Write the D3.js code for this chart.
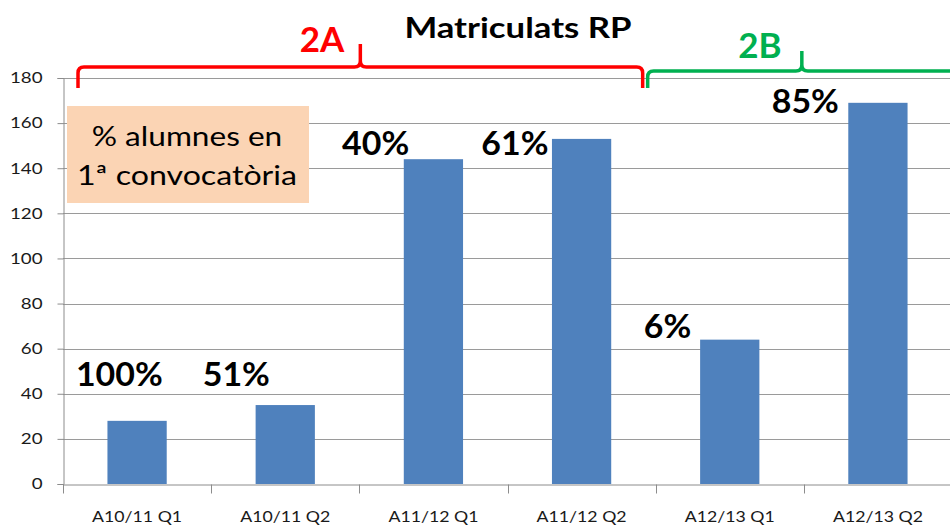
<!DOCTYPE html>
<html>
<head>
<meta charset="utf-8">
<script src="https://cdn.jsdelivr.net/npm/d3@7"></script>
<style>
  body { margin: 0; background: #fff; }
  text { font-family: Lato, "Open Sans", sans-serif; }
</style>
</head>
<body>
<div id="chart"></div>
<script>
// data
var categories = ['A10/11 Q1', 'A10/11 Q2', 'A11/12 Q1', 'A11/12 Q2', 'A12/13 Q1', 'A12/13 Q2'];
var matriculats = [28, 35, 144, 153, 64, 169];
var pctLabels = ['100%', '51%', '40%', '61%', '6%', '85%'];
// where each % label sits: baseline in axis units, centre as a fraction of its band
var pctLabelY = [43.4, 43.4, 145.8, 145.8, 64.7, 164.4];
var pctLabelPos = [0.38, 0.17, 0.11, 0.05, 0.08, 0.01];
var yTicks = [0, 20, 40, 60, 80, 100, 120, 140, 160, 180];
var groups = [
  { name: '2A', from: 0, to: 4, color: '#ff0000' },
  { name: '2B', from: 4, to: 6, color: '#00b050' }
];

var width = 950, height = 526;
var margin = { top: 78, right: -2, bottom: 42, left: 63 };

// the original text is a bit wider than Lato, stretch it
function stretch(sel, k) {
  sel.each(function () {
    var len = this.getComputedTextLength();
    d3.select(this)
      .attr('textLength', len * k)
      .attr('lengthAdjust', 'spacingAndGlyphs');
  });
}

var svg = d3.select('#chart')
  .append('svg')
  .attr('width', width)
  .attr('height', height);

var x = d3.scaleBand()
  .domain(categories)
  .range([margin.left, width - margin.right])
  .padding(0);

var y = d3.scaleLinear()
  .domain([0, 180])
  .range([height - margin.bottom, margin.top]);

// gridlines
svg.append('g')
  .selectAll('line')
  .data(yTicks.slice(1))
  .enter()
  .append('line')
  .attr('x1', margin.left)
  .attr('x2', width)
  .attr('y1', function (d) { return Math.round(y(d)) + 0.5; })
  .attr('y2', function (d) { return Math.round(y(d)) + 0.5; })
  .attr('stroke', '#9a9a9a')
  .attr('stroke-width', 1);

// y axis
var yAxis = svg.append('g')
  .attr('transform', 'translate(' + (margin.left + 0.5) + ',0)')
  .call(d3.axisLeft(y).tickValues(yTicks).tickSize(6).tickPadding(15));
yAxis.select('.domain').attr('stroke', '#8c8c8c');
yAxis.selectAll('.tick line').attr('stroke', '#8c8c8c');
yAxis.selectAll('.tick text')
  .attr('fill', '#1a1a1a')
  .style('font-size', '15px')
  .call(stretch, 1.25);

// x axis
var xAxis = svg.append('g')
  .attr('transform', 'translate(0,' + (Math.round(y(0)) + 0.5) + ')')
  .call(d3.axisBottom(x).tickSize(0).tickPadding(27));
xAxis.select('.domain').attr('stroke', '#8c8c8c');
xAxis.selectAll('.tick text')
  .attr('fill', '#1a1a1a')
  .style('font-size', '15px')
  .call(stretch, 1.18);
xAxis.selectAll('.sep')
  .data(categories)
  .enter()
  .append('line')
  .attr('class', 'sep')
  .attr('x1', function (d) { return Math.round(x(d)) + 0.5; })
  .attr('x2', function (d) { return Math.round(x(d)) + 0.5; })
  .attr('y1', 0)
  .attr('y2', 9)
  .attr('stroke', '#8c8c8c');

// bars
var barW = x.bandwidth() * 0.4;
svg.append('g')
  .selectAll('rect')
  .data(matriculats)
  .enter()
  .append('rect')
  .attr('x', function (d, i) { return x(categories[i]) + (x.bandwidth() - barW) / 2; })
  .attr('y', function (d) { return y(d); })
  .attr('width', barW)
  .attr('height', function (d) { return y(0) - y(d); })
  .attr('fill', '#4f81bd');

// % labels
svg.append('g')
  .selectAll('text')
  .data(pctLabels)
  .enter()
  .append('text')
  .attr('x', function (d, i) { return x(categories[i]) + x.bandwidth() * pctLabelPos[i]; })
  .attr('y', function (d, i) { return y(pctLabelY[i]); })
  .attr('text-anchor', 'middle')
  .style('font-size', '32px')
  .style('font-weight', 'bold')
  .attr('fill', '#000')
  .text(function (d) { return d; })
  .call(stretch, 1.06);

// note box
var box = svg.append('g');
box.append('rect')
  .attr('x', 67)
  .attr('y', 106)
  .attr('width', 242)
  .attr('height', 97)
  .attr('fill', '#fbd4b4');
box.append('text')
  .attr('x', 187)
  .attr('y', 146)
  .attr('text-anchor', 'middle')
  .style('font-size', '27px')
  .attr('fill', '#000')
  .text('% alumnes en')
  .call(stretch, 1.17);
box.append('text')
  .attr('x', 187)
  .attr('y', 185)
  .attr('text-anchor', 'middle')
  .style('font-size', '27px')
  .attr('fill', '#000')
  .text('1ª convocatòria')
  .call(stretch, 1.19);

// title
svg.append('text')
  .attr('x', 518)
  .attr('y', 38)
  .attr('text-anchor', 'middle')
  .style('font-size', '28px')
  .style('font-weight', 'bold')
  .attr('fill', '#000')
  .text('Matriculats RP')
  .call(stretch, 1.24);

// curly braces for the groups
function brace(x0, x1, yh, yb, yt) {
  var r = 6, xm = (x0 + x1) / 2;
  return 'M' + x0 + ',' + yb + 'L' + x0 + ',' + (yh + r) +
    'Q' + x0 + ',' + yh + ' ' + (x0 + r) + ',' + yh +
    'L' + (xm - r) + ',' + yh +
    'Q' + xm + ',' + yh + ' ' + xm + ',' + (yh - r) +
    'L' + xm + ',' + yt +
    'M' + xm + ',' + (yh - r) +
    'Q' + xm + ',' + yh + ' ' + (xm + r) + ',' + yh +
    'L' + (x1 - r) + ',' + yh +
    'Q' + x1 + ',' + yh + ' ' + x1 + ',' + (yh + r) +
    'L' + x1 + ',' + yb;
}
var xEnd = function (i) { return i < categories.length ? x(categories[i]) : x.range()[1]; };

var g0 = groups[0], g1 = groups[1];
svg.append('path')
  .attr('d', brace(xEnd(g0.from) + 15, xEnd(g0.to) - 13, 67, 88, 44))
  .attr('fill', 'none')
  .attr('stroke', g0.color)
  .attr('stroke-width', 3.5);
svg.append('text')
  .attr('x', 322)
  .attr('y', 52)
  .attr('text-anchor', 'middle')
  .style('font-size', '35px')
  .style('font-weight', 'bold')
  .attr('fill', g0.color)
  .text(g0.name);

svg.append('path')
  .attr('d', brace(xEnd(g1.from) - 8, xEnd(g1.to) + 4, 71, 88, 51))
  .attr('fill', 'none')
  .attr('stroke', g1.color)
  .attr('stroke-width', 3.5);
svg.append('text')
  .attr('x', 760)
  .attr('y', 58)
  .attr('text-anchor', 'middle')
  .style('font-size', '35px')
  .style('font-weight', 'bold')
  .attr('fill', g1.color)
  .text(g1.name);
</script>
</body>
</html>
